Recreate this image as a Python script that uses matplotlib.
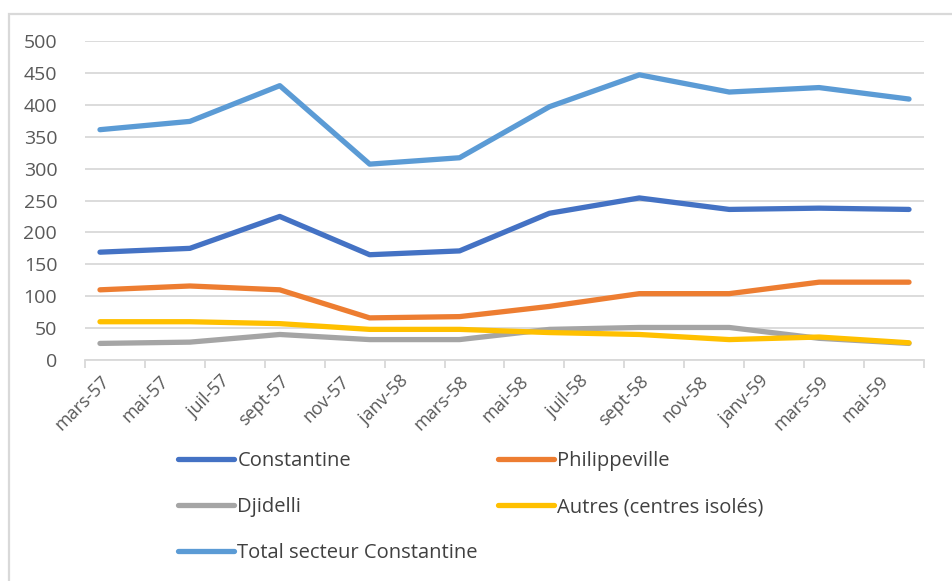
import numpy as np
import matplotlib.pyplot as plt
from matplotlib.patches import Rectangle

# month labels every 2 months starting mars-57 (axis is monthly, 28 months)
tick_labels = ["mars-57", "mai-57", "juil-57", "sept-57", "nov-57", "janv-58",
               "mars-58", "mai-58", "juil-58", "sept-58", "nov-58", "janv-59",
               "mars-59", "mai-59"]
# data months, counted from mars-57 (quarterly: mars, juin, sept, dec)
months = [0, 3, 6, 9, 12, 15, 18, 21, 24, 27]

constantine = [169, 175, 225, 165, 171, 230, 254, 236, 238, 236]
philippeville = [110, 116, 110, 66, 68, 84, 104, 104, 122, 122]
djidelli = [26, 28, 40, 32, 32, 48, 51, 51, 34, 26]
autres = [60, 60, 57, 48, 48, 43, 40, 32, 36, 27]
total = [361, 374, 430, 307, 317, 397, 447, 420, 427, 409]

plt.rcParams['font.family'] = ['Open Sans', 'DejaVu Sans']
txt = '#595959'
grid = '#D9D9D9'

fig = plt.figure(figsize=(9.52, 5.81), dpi=100)
fig.patches.append(Rectangle((9 / 952, -0.1), 1.1, 1 - 14 / 581 + 0.1,
                             transform=fig.transFigure, fill=False,
                             edgecolor=grid, lw=1.6))

ax = fig.add_axes([85 / 952, 1 - 360 / 581, (924 - 85) / 952, (360 - 41) / 581])

x = np.array(months) + 0.5
lw = 3.8
l1, = ax.plot(x, constantine, color='#4472C4', lw=lw, solid_capstyle='round', label='Constantine')
l2, = ax.plot(x, philippeville, color='#ED7D31', lw=lw, solid_capstyle='round', label='Philippeville')
l3, = ax.plot(x, djidelli, color='#A5A5A5', lw=lw, solid_capstyle='round', label='Djidelli')
l4, = ax.plot(x, autres, color='#FFC000', lw=lw, solid_capstyle='round', label='Autres (centres isolés)')
l5, = ax.plot(x, total, color='#5B9BD5', lw=lw, solid_capstyle='round', label='Total secteur Constantine')

ax.set_xlim(0, 28)
ax.set_ylim(0, 500)
ax.set_yticks(np.arange(0, 501, 50))
ax.yaxis.grid(True, color=grid, lw=1.3)
ax.set_axisbelow(True)
for s in ['top', 'right', 'left']:
    ax.spines[s].set_visible(False)
ax.spines['bottom'].set_color(grid)
ax.spines['bottom'].set_linewidth(1.3)

# tick marks at 2-month boundaries, labels centered on the month slot
ax.set_xticks(np.arange(0, 29, 2))
ax.set_xticklabels([])
ax.tick_params(axis='x', which='major', length=6, width=1.3, color=grid)
ax.set_xticks(np.arange(len(tick_labels)) * 2 + 0.5, minor=True)
ax.set_xticklabels(tick_labels, minor=True, rotation=45, ha='right', va='top',
                   rotation_mode='anchor')
ax.tick_params(axis='x', which='minor', length=0, pad=9, labelsize=13, labelcolor=txt)
ax.tick_params(axis='y', length=0, pad=20, labelsize=14, labelcolor=txt)

leg = fig.legend(handles=[l1, l3, l5, l2, l4], ncol=2, loc='upper left',
                 bbox_to_anchor=(178 / 952, 1 - 451 / 581), frameon=False,
                 fontsize=14.5, handlelength=2.8, handletextpad=0.15,
                 labelspacing=1.3, columnspacing=1.0, borderpad=0, borderaxespad=0)
for t in leg.get_texts():
    t.set_color('#404040')

fig.savefig('out.png', dpi=100)
